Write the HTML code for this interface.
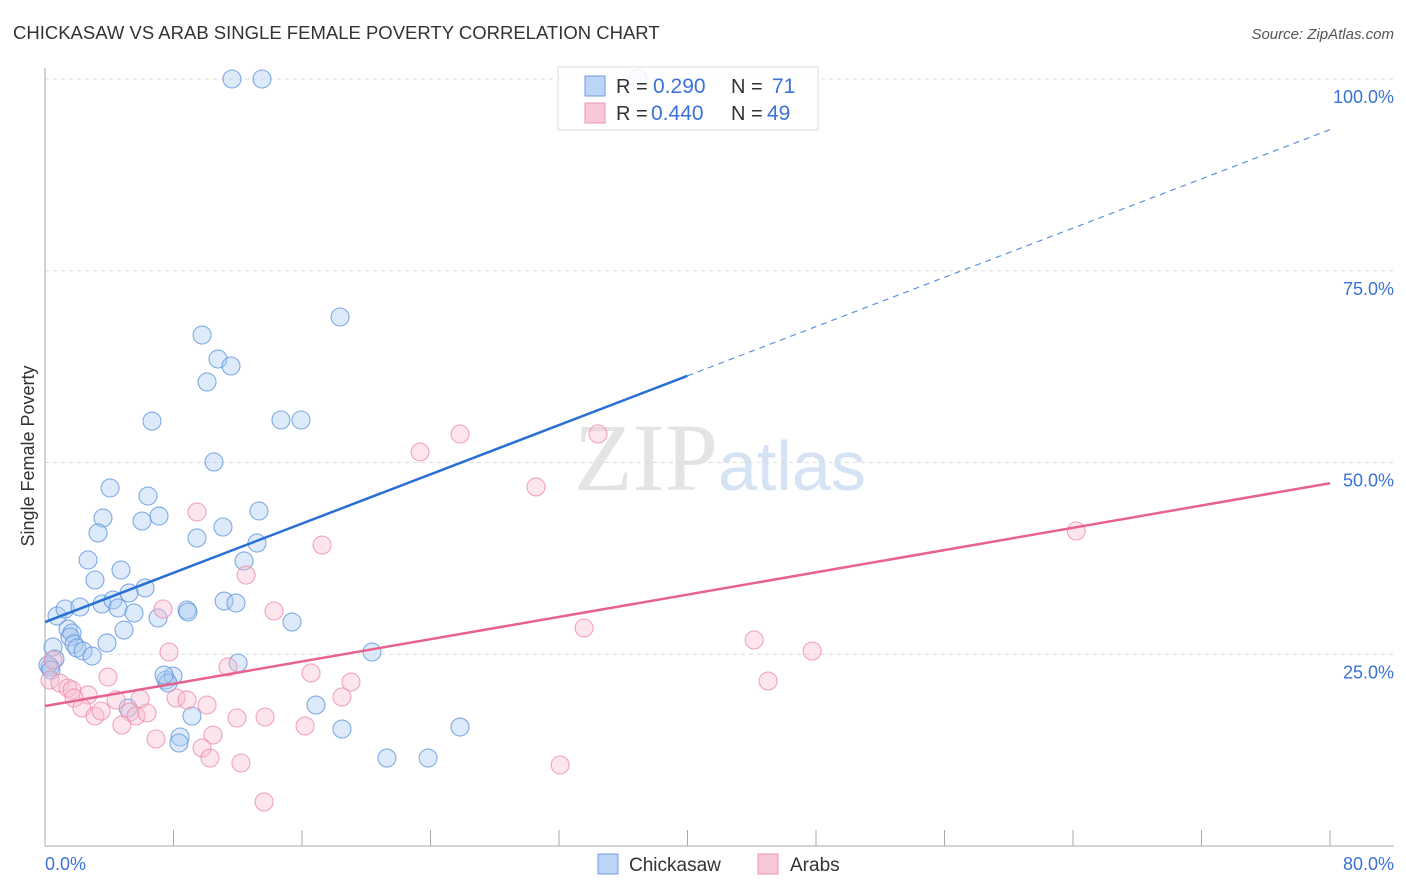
<!DOCTYPE html>
<html><head><meta charset="utf-8"><style>
body{margin:0;background:#fff;font-family:"Liberation Sans",sans-serif}
svg{display:block}
</style></head><body>
<svg id="c" width="1406" height="892" xmlns="http://www.w3.org/2000/svg">
<text x="13" y="39" font-size="18.5" fill="#333">CHICKASAW VS ARAB SINGLE FEMALE POVERTY CORRELATION CHART</text>
<text x="1394" y="39" font-size="15" fill="#555" font-style="italic" text-anchor="end">Source: ZipAtlas.com</text>
<text x="718" y="490" font-size="96" font-family="Liberation Serif,serif" fill="#e4e4e4" text-anchor="end">ZIP</text>
<text x="718" y="490" font-size="70" fill="#d6e3f5">atlas</text>
<g id="grid"></g>
<g id="axes"></g>
<g id="pts"></g>
<g id="trend"></g>
<text transform="translate(34,456) rotate(-90)" font-size="18" fill="#333" text-anchor="middle">Single Female Poverty</text>
<text x="45" y="870" font-size="18" fill="#3a72d8">0.0%</text>
<text x="1394" y="870" font-size="18" fill="#3a72d8" text-anchor="end">80.0%</text>
<g>
<rect x="558" y="67" width="260" height="63" fill="rgba(255,255,255,0.85)" stroke="#ddd"/>
<rect x="585" y="76" width="20" height="20" fill="#bcd4f5" stroke="#6f9ee0"/>
<rect x="585" y="103" width="20" height="20" fill="#f9c8d7" stroke="#ec94b0"/>
<text x="616" y="93" font-size="20" fill="#333">R =</text>
<text x="653" y="93" font-size="21" fill="#3a72d8">0.290</text>
<text x="731" y="93" font-size="20" fill="#333">N =</text>
<text x="772" y="93" font-size="21" fill="#3a72d8">71</text>
<text x="616" y="120" font-size="20" fill="#333">R =</text>
<text x="651" y="120" font-size="21" fill="#3a72d8">0.440</text>
<text x="731" y="120" font-size="20" fill="#333">N =</text>
<text x="767" y="120" font-size="21" fill="#3a72d8">49</text>
</g>
<g>
<rect x="598" y="854" width="20" height="20" fill="#bcd4f5" stroke="#6f9ee0"/>
<text x="629" y="871" font-size="19" fill="#333">Chickasaw</text>
<rect x="758" y="854" width="20" height="20" fill="#f9c8d7" stroke="#ec94b0"/>
<text x="790" y="871" font-size="19" fill="#333">Arabs</text>
</g>
</svg>
<script>
const yTicks=[25,50,75,100];
const yTickLabels=["25.0%","50.0%","75.0%","100.0%"];
const xTicks=[0,8,16,24,32,40,48,56,64,72,80];
const blueX=[11.64,13.51,36.9,18.37,9.78,10.77,11.58,10.09,6.66,14.69,15.94,10.52,4.05,6.41,3.61,7.1,6.04,13.32,3.3,11.08,9.46,2.68,13.2,12.39,4.73,3.11,6.23,5.23,0.75,1.25,2.18,3.55,4.23,4.55,5.54,7.04,8.84,8.9,11.15,11.89,15.38,1.43,1.68,4.92,1.56,1.81,3.86,1.99,2.37,2.93,0.5,0.62,0.31,20.36,7.53,7.97,7.66,7.41,12.02,16.87,5.17,9.15,18.49,25.84,8.41,8.34,21.29,23.85,0.19,0.37];
const blueY=[100,100,100.1,68.97,66.62,63.49,62.58,60.5,55.4,55.54,55.54,50.07,46.68,45.63,42.76,43.02,42.37,43.68,40.81,41.59,40.16,37.29,39.5,37.16,35.98,34.68,33.64,32.99,29.99,30.9,31.16,31.55,32.07,31.03,30.38,29.73,30.77,30.51,31.94,31.68,29.2,28.29,27.77,28.16,27.25,26.34,26.47,25.82,25.42,24.77,25.95,24.38,23.34,25.29,21.64,22.16,21.25,22.29,23.86,18.38,17.99,16.95,15.25,15.51,14.21,13.43,11.47,11.47,23.6,22.95];
const pinkX=[64.2,25.84,23.35,34.43,30.57,9.46,17.25,12.52,7.35,14.26,33.56,44.15,47.76,7.72,3.92,11.39,16.56,45.02,19.05,18.49,0.5,0.31,0.93,1.43,1.68,2.68,1.81,4.42,5.92,8.16,8.84,2.3,3.11,3.49,5.29,5.67,6.35,10.09,4.79,6.91,11.95,13.7,16.19,10.46,9.78,10.27,12.2,32.07,13.64];
const pinkY=[41.07,53.72,51.37,53.72,46.81,43.55,39.24,35.33,30.9,30.64,28.42,26.86,25.42,25.29,22.03,23.34,22.56,21.51,21.38,19.43,24.25,21.64,21.25,20.6,20.34,19.69,19.3,19.04,19.17,19.3,19.04,17.99,16.95,17.6,17.47,16.95,17.34,18.38,15.78,13.95,16.69,16.82,15.65,14.47,12.78,11.47,10.82,10.56,5.74];
const blueTrend=[29.2,93.4];
const pinkTrend=[18.25,47.3];
const sx=v=>45+v*(1330-45)/80;
const sy=v=>846-v*7.67;
const NS="http://www.w3.org/2000/svg";
function mk(tag,attrs,parent){const e=document.createElementNS(NS,tag);for(const k in attrs)e.setAttribute(k,attrs[k]);document.getElementById(parent).appendChild(e);return e;}
yTicks.forEach((t,i)=>{
 const l=mk('line',{x1:45,x2:1394,y1:sy(t),y2:sy(t),stroke:'#ddd','stroke-dasharray':'4,4'},'grid');
 
 
 const tx=mk('text',{x:1394,y:sy(t)+24,'font-size':18,fill:'#3a72d8','text-anchor':'end'},'grid');
 tx.textContent=yTickLabels[i];
 
 
});
let a=mk('line',{x1:45,x2:45,y1:68,y2:846,stroke:'#aaa'},'axes');


a=mk('line',{x1:45,x2:1394,y1:846,y2:846,stroke:'#aaa'},'axes');


xTicks.forEach(t=>{
 const l=mk('line',{x1:sx(t),x2:sx(t),y1:830,y2:846,stroke:'#aaa'},'axes');
 
 
});
blueX.forEach((x,i)=>{
 const c=mk('circle',{cx:sx(x),cy:sy(blueY[i]),r:9,fill:'rgba(170,202,242,0.4)',stroke:'#5a92dc','stroke-width':1.1,'stroke-opacity':0.75},'pts');
 
 
});
pinkX.forEach((x,i)=>{
 const c=mk('circle',{cx:sx(x),cy:sy(pinkY[i]),r:9,fill:'rgba(248,190,208,0.4)',stroke:'#ec88a8','stroke-width':1.1,'stroke-opacity':0.75},'pts');
 
 
});
const by=x=>blueTrend[0]+(blueTrend[1]-blueTrend[0])*x/80;
const py=x=>pinkTrend[0]+(pinkTrend[1]-pinkTrend[0])*x/80;
let t=mk('line',{x1:sx(0),y1:sy(by(0)),x2:sx(40),y2:sy(by(40)),stroke:'#2a6fd6','stroke-width':2.5},'trend');


t=mk('line',{x1:sx(40),y1:sy(by(40)),x2:sx(80),y2:sy(by(80)),stroke:'#5a92dc','stroke-width':1.2,'stroke-dasharray':'6,5'},'trend');


t=mk('line',{x1:sx(0),y1:sy(py(0)),x2:sx(80),y2:sy(py(80)),stroke:'#e8628e','stroke-width':2.5},'trend');


</script>
</body></html>
